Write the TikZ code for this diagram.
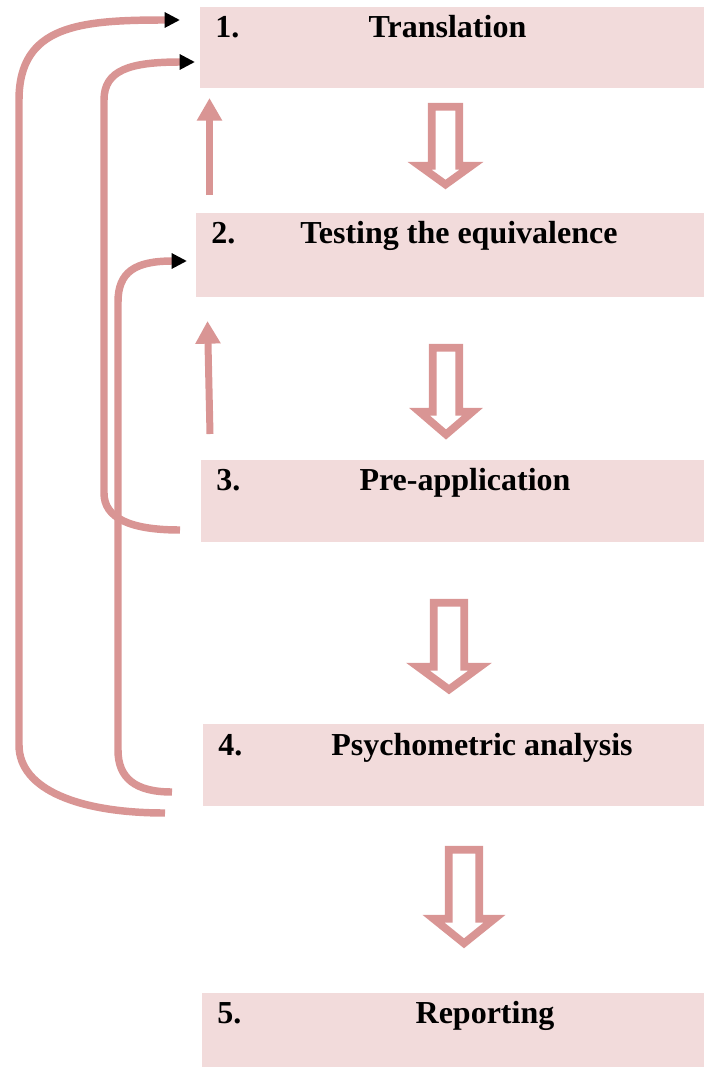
\documentclass[tikz,border=0pt]{standalone}
\usepackage{fontspec}
\setmainfont{Liberation Serif}
\usetikzlibrary{arrows.meta}
\definecolor{boxpink}{HTML}{F2DBDB}
\definecolor{linepink}{HTML}{D99594}

\begin{document}
\begin{tikzpicture}[x=0.75pt, y=-0.75pt,
    stagebox/.style={fill=boxpink, inner sep=0pt, anchor=north west},
    stagenum/.style={font=\fontsize{24pt}{28pt}\selectfont\bfseries, inner sep=0pt, anchor=base west},
    stagetitle/.style={font=\fontsize{24pt}{28pt}\selectfont\bfseries, inner sep=0pt, anchor=base},
    loopline/.style={draw=linepink, line width=5.6pt, -{Triangle[length=11.5pt, width=11pt, black]}},
    upline/.style={draw=linepink, line width=5.25pt, -{Triangle[length=17pt, width=18pt, linepink]}},
    hollow/.style={draw=linepink, fill=white, line width=5.8pt, line join=miter}]
  \useasboundingbox (0,0) rectangle (704,1067);
  % Stage boxes
  \node[stagebox, minimum width=378pt, minimum height=60.75pt] (b1) at (200,7) {};
  \node[stagebox, minimum width=381pt, minimum height=63pt] (b2) at (196,213) {};
  \node[stagebox, minimum width=377.25pt, minimum height=61.5pt] (b3) at (201,460) {};
  \node[stagebox, minimum width=375.75pt, minimum height=61.5pt] (b4) at (203,724) {};
  \node[stagebox, minimum width=376.5pt, minimum height=55.5pt] (b5) at (202,993) {};
  % Numbers and titles
  \foreach \n/\x/\y/\cx/\t in {1/215/37/447.5/Translation, 2/211/243/459/Testing the equivalence,
      3/216/490/465/Pre-application, 4/218/755/482/Psychometric analysis, 5/217/1023/485/Reporting} {
    \node[stagenum] (n\n) at (\x,\y) {\n.};
    \node[stagetitle] (t\n) at (\cx,\y) {\t};
  }
  % Hollow arrows between the stages
  \foreach \cx/\ty/\sw/\by/\hw/\py in {445.5/106.75/13.75/165.75/26/184.5, 446/347.75/13.25/411.75/26.5/434.5,
      449/602.75/15.25/666.75/31/689.5, 464/849.75/15.25/918.75/30.5/943.3}
    \draw[hollow] (\cx-\sw,\ty) -- (\cx+\sw,\ty) -- (\cx+\sw,\by) -- (\cx+\hw,\by)
      -- (\cx,\py) -- (\cx-\hw,\by) -- (\cx-\sw,\by) -- cycle;
  % Upward arrows
  \coordinate (u1s) at (209.5,195);
  \coordinate (u1e) at (209.5,98);
  \coordinate (u2s) at (210,434);
  \coordinate (u2e) at (207.5,321);
  \draw[upline] (u1s) -- (u1e);
  \draw[upline] (u2s) -- (u2e);
  % Feedback loops
  \coordinate (f1s) at (165,813);
  \coordinate (f1e) at (180,20);
  \coordinate (f2s) at (180,530);
  \coordinate (f2e) at (195,62);
  \coordinate (f3s) at (172,792);
  \coordinate (f3e) at (187,261);
  \draw[loopline] (f1s) .. controls (80,813) and (19,790) .. (19,745) -- (19,100)
    .. controls (19,25) and (80,20) .. (f1e);
  \draw[loopline] (f2s) .. controls (130,530) and (104,518) .. (104,493) -- (104,100)
    .. controls (104,70) and (130,62) .. (f2e);
  \draw[loopline] (f3s) .. controls (135,792) and (118,778) .. (118,750) -- (118,302)
    .. controls (118,272) and (135,261) .. (f3e);
\end{tikzpicture}
\end{document}
